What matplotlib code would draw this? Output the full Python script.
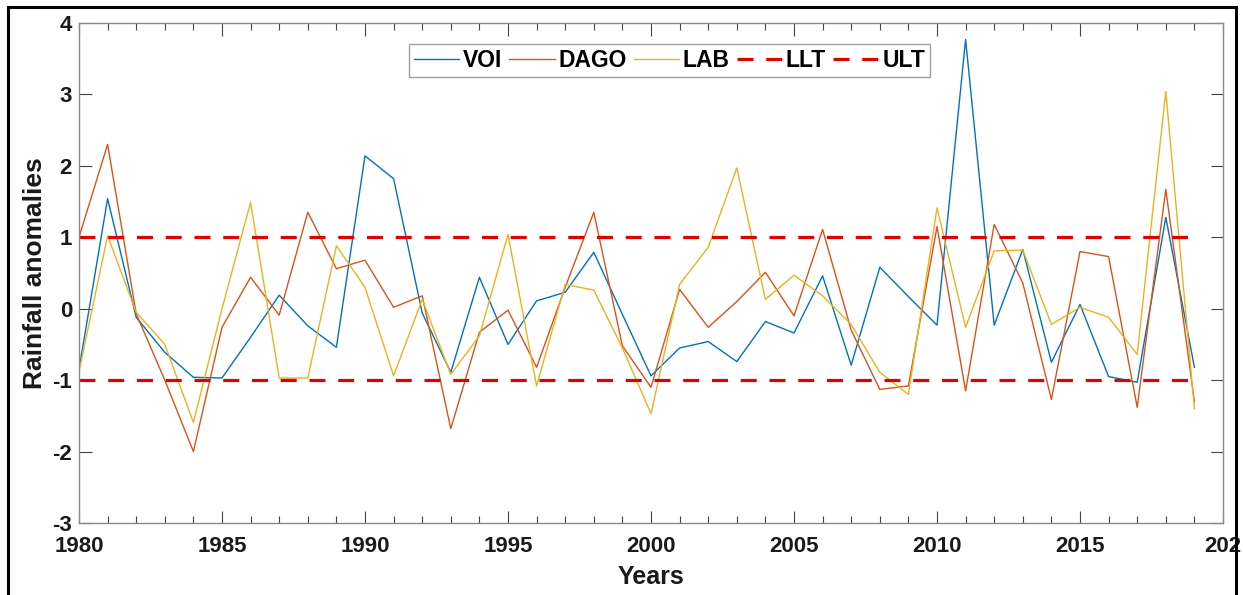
import numpy as np
import matplotlib
matplotlib.use("Agg")
import matplotlib.pyplot as plt
from matplotlib.patches import Rectangle

years = list(range(1980, 2020))
voi = [-0.85, 1.54, -0.12, -0.61, -0.96, -0.97, -0.40, 0.19, -0.24, -0.54,
       2.14, 1.82, -0.06, -0.89, 0.44, -0.50, 0.11, 0.23, 0.79, -0.08,
       -0.94, -0.55, -0.46, -0.74, -0.18, -0.34, 0.46, -0.79, 0.58, 0.17,
       -0.23, 3.77, -0.23, 0.83, -0.75, 0.06, -0.95, -1.03, 1.28, -0.82]
dago = [1.00, 2.30, -0.07, -1.00, -2.00, -0.26, 0.44, -0.09, 1.35, 0.56,
        0.68, 0.02, 0.18, -1.68, -0.33, -0.02, -0.82, 0.30, 1.35, -0.52,
        -1.10, 0.27, -0.26, 0.10, 0.51, -0.10, 1.11, -0.30, -1.13, -1.08,
        1.15, -1.15, 1.18, 0.36, -1.27, 0.80, 0.73, -1.38, 1.67, -1.30]
lab = [-0.88, 1.02, -0.05, -0.50, -1.59, 0.00, 1.49, -0.97, -0.97, 0.88,
       0.30, -0.94, 0.13, -0.92, -0.38, 1.04, -1.08, 0.34, 0.26, -0.55,
       -1.47, 0.34, 0.86, 1.97, 0.13, 0.47, 0.18, -0.22, -0.89, -1.20,
       1.41, -0.26, 0.81, 0.82, -0.22, 0.02, -0.12, -0.64, 3.04, -1.40]
llt = -1
ult = 1
series_names = ["VOI", "DAGO", "LAB", "LLT", "ULT"]
xticks = [1980, 1985, 1990, 1995, 2000, 2005, 2010, 2015, 2020]
xticklabels = ["1980", "1985", "1990", "1995", "2000", "2005", "2010", "2015", "202"]
yticks = [-3, -2, -1, 0, 1, 2, 3, 4]

plt.rcParams['font.family'] = ['Liberation Sans', 'DejaVu Sans']
plt.rcParams['font.weight'] = 'bold'

fig = plt.figure(figsize=(12.43, 5.95), dpi=100)
ax = fig.add_axes([79/1243, 1-523/595, (1223-79)/1243, (523-23)/595])

lw = 1.0
ax.plot(years, voi, color='#0072BD', lw=lw, label=series_names[0])
ax.plot(years, dago, color='#D95319', lw=lw, label=series_names[1])
ax.plot(years, lab, color='#EDB120', lw=lw, label=series_names[2])
ax.plot(years, [llt]*len(years), color='#E00000', lw=2.3, dashes=(5.0, 4.0), label=series_names[3])
ax.plot(years, [ult]*len(years), color='#E00000', lw=2.3, dashes=(5.0, 4.0), label=series_names[4])

ax.set_xlim(1980, 2020)
ax.set_ylim(-3, 4)
ax.set_xticks(xticks)
ax.set_xticklabels(xticklabels)
ax.set_xticks(years, minor=True)
ax.set_yticks(yticks)
ax.set_yticklabels([str(v) for v in yticks])

for s in ax.spines.values():
    s.set_color('#8a8a8a')
    s.set_linewidth(1.0)
ax.tick_params(axis='both', which='both', direction='in', top=True, right=True,
               color='#444444', labelcolor='#1a1a1a', labelsize=16)
ax.tick_params(axis='both', which='major', length=9, width=0.8)
ax.tick_params(axis='x', which='minor', length=5, width=0.8)
ax.tick_params(axis='x', which='major', pad=9)
ax.tick_params(axis='y', which='major', pad=5)
for lbl in ax.get_xticklabels() + ax.get_yticklabels():
    lbl.set_fontweight('bold')

ax.set_xlabel("Years", fontsize=18, fontweight='bold', color='#1a1a1a', labelpad=6)
ax.set_ylabel("Rainfall anomalies", fontsize=19, fontweight='bold', color='#1a1a1a', labelpad=4)

leg = ax.legend(loc='upper center', bbox_to_anchor=(0.516, 0.957), ncol=5,
                prop={'weight': 'bold', 'size': 16.5}, frameon=True, fancybox=False,
                handlelength=2.0, handletextpad=0.15, columnspacing=0.3,
                borderpad=0.2, borderaxespad=0.0)
leg.get_frame().set_edgecolor('#8a8a8a')
leg.get_frame().set_linewidth(1.0)

fig.add_artist(Rectangle((8/1243, -0.05), (1236-8)/1243, 1.05 - 7/595,
                         transform=fig.transFigure, fill=False, edgecolor='black',
                         linewidth=2.2, clip_on=False))

fig.savefig("out.png", dpi=100)
